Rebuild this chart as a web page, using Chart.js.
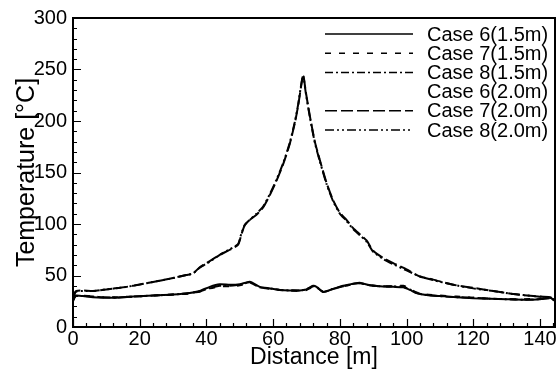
<!DOCTYPE html>
<html lang="en">
<head>
  <meta charset="UTF-8">
  <title>Temperature vs Distance</title>
  <script src="https://cdn.jsdelivr.net/npm/chart.js"></script>
  <style>
    body { margin: 0; background: #fff; }
  </style>
</head>
<body>
  <canvas id="tempChart" width="559" height="373"></canvas>

  <script>
    // distances [m] for the 1.5m and 2.0m runs
    const dist15 = [0, 0.5, 1, 3, 6, 9, 13, 18, 24, 30, 35, 38, 41, 44, 47, 50, 53, 56, 59, 62, 65, 68, 70, 72, 73, 75, 78, 81, 84, 86, 89, 92, 96, 99, 101, 103, 106, 110, 115, 120, 125, 130, 135, 140, 143, 144.5];
    const dist20 = [0, 0.5, 1, 3, 6, 10, 14, 18, 22, 26, 30, 34, 36, 38, 41, 44, 47, 49.5, 50.5, 51.5, 53, 55, 57, 59, 61, 63, 65, 66.5, 67.5, 68.3, 69, 69.8, 71, 72.5, 74, 76, 78, 80, 82, 84, 86, 88, 90, 93, 96, 100, 104, 108, 114, 120, 126, 132, 138, 143, 144.5];

    // temperatures [oC]
    const case6_15 = [25, 29, 30.5, 30, 29, 28.5, 28.5, 29.5, 30.5, 31.5, 33, 35, 39, 41.5, 41, 41.5, 44, 39, 37.5, 36, 35.5, 35.5, 36.5, 40, 39, 34, 37, 40, 42, 43, 40.5, 39.5, 39, 38.5, 36, 33, 31, 30, 29, 28, 27.5, 27, 26.5, 27, 28.5, 26];
    const case7_15 = [26, 29.5, 31, 30.5, 29.5, 29, 29, 29.5, 30.5, 31.5, 32.5, 34.5, 37.5, 39.5, 39.5, 40.5, 43, 38.5, 37, 36, 35.5, 35, 36, 39, 38.5, 34.5, 37, 39.5, 41.5, 42.5, 40.5, 39.5, 39.5, 40, 37, 33.5, 31.5, 30.5, 29.5, 28.5, 27.5, 27, 27, 27.5, 28, 25.5];
    const case8_15 = [25.5, 29, 30, 30, 29.5, 29, 28.5, 29.5, 30.5, 31.5, 33, 34.5, 38, 40, 40, 41, 43.5, 38.5, 37.5, 36, 35.5, 35.5, 36.5, 39.5, 39, 34, 37, 39.5, 42, 42.5, 40.5, 39.5, 39.5, 39, 36.5, 33, 31, 30, 29, 28.5, 27.5, 27, 26.5, 27, 28, 26];
    const case6_20 = []; // no visible line in the figure
    const case7_20 = [28, 33, 35, 35.5, 35, 36.5, 38, 40, 42.5, 45, 47.5, 50.5, 52, 58, 64, 70, 75, 80, 90, 99, 104, 109, 116, 128, 142, 158, 178, 198, 215, 232, 245, 228, 205, 180, 162, 140, 123, 111, 104, 96, 90, 84, 74, 67, 62, 56, 49, 46, 41, 38, 35, 32, 30, 29, 26];
    const case8_20 = [28, 32.5, 34.5, 35, 35, 36.5, 38, 40, 42.5, 45, 47.5, 50.5, 52, 57.5, 63.5, 70, 75.5, 80.5, 91, 99, 104, 110, 117, 129, 143, 159, 179, 199, 216, 233, 244, 227, 204, 179, 161, 139, 122, 110, 103, 95, 89, 83, 73, 66, 61, 55, 49, 45.5, 41, 37.5, 35, 32, 30, 28.5, 26];

    const FONT = "'Liberation Sans', Arial, sans-serif";

    function pts(xs, ys) {
      return ys.map((v, i) => ({ x: xs[i], y: v }));
    }

    function line(label, xs, ys, dash, width) {
      return {
        label: label,
        data: pts(xs, ys),
        borderColor: '#000',
        borderWidth: width === undefined ? 2 : width,
        borderDash: dash,
        pointRadius: 0,
        tension: 0.2,
        fill: false,
      };
    }

    // inward ticks + box frame
    const frameTicks = {
      id: 'frameTicks',
      afterDraw(chart) {
        const { ctx, chartArea: a, scales: { x, y } } = chart;
        ctx.save();
        ctx.strokeStyle = '#000';
        ctx.lineWidth = 1.2;
        ctx.beginPath();
        for (let v = 0; v <= x.max; v += 4) {
          const px = Math.round(x.getPixelForValue(v)) + 0.5;
          const len = v % 20 === 0 ? 8 : 4;
          ctx.moveTo(px, a.bottom);
          ctx.lineTo(px, a.bottom - len);
        }
        for (let v = 0; v <= y.max; v += 10) {
          const py = Math.round(y.getPixelForValue(v)) + 0.5;
          const len = v % 50 === 0 ? 8 : 4;
          ctx.moveTo(a.left, py);
          ctx.lineTo(a.left + len, py);
        }
        ctx.stroke();
        ctx.lineWidth = 2;
        ctx.strokeRect(a.left, a.top, a.right - a.left, a.bottom - a.top);
        ctx.restore();
      }
    };

    // legend drawn inside the plot, top right
    const caseLegend = {
      id: 'caseLegend',
      afterDraw(chart) {
        const ctx = chart.ctx;
        ctx.save();
        ctx.font = '20px ' + FONT;
        ctx.fillStyle = '#000';
        ctx.textBaseline = 'middle';
        chart.data.datasets.forEach((ds, i) => {
          const yy = 34 + i * 19.2;
          if (ds.borderWidth > 0) {
            ctx.strokeStyle = '#000';
            ctx.lineWidth = 1.5;
            ctx.setLineDash(ds.borderDash || []);
            ctx.beginPath();
            ctx.moveTo(325, yy);
            ctx.lineTo(413, yy);
            ctx.stroke();
          }
          ctx.setLineDash([]);
          ctx.fillText(ds.label, 427, yy + 1);
        });
        ctx.restore();
      }
    };

    const ctx = document.getElementById('tempChart').getContext('2d');
    new Chart(ctx, {
      type: 'line',
      data: {
        datasets: [
          line('Case 6(1.5m)', dist15, case6_15, []),
          line('Case 7(1.5m)', dist15, case7_15, [6, 8]),
          line('Case 8(1.5m)', dist15, case8_15, [8, 3, 2, 3]),
          line('Case 6(2.0m)', dist20, case6_20, [], 0),
          line('Case 7(2.0m)', dist20, case7_20, [12, 4]),
          line('Case 8(2.0m)', dist20, case8_20, [9, 3, 2, 3, 2, 3]),
        ],
      },
      options: {
        responsive: false,
        animation: false,
        layout: { padding: { top: 15, right: 4 } },
        plugins: {
          legend: { display: false },
          tooltip: { enabled: false },
        },
        scales: {
          x: {
            type: 'linear',
            min: 0,
            max: 144.5,
            afterFit: s => { s.height = 46; },
            ticks: {
              stepSize: 20,
              includeBounds: false,
              color: '#000',
              padding: 0,
              font: { family: FONT, size: 20 },
            },
            grid: { drawOnChartArea: false, drawTicks: false },
            border: { display: false },
            title: {
              display: true,
              text: 'Distance [m]',
              color: '#000',
              padding: { top: 0, bottom: 2 },
              font: { family: FONT, size: 23 },
            },
          },
          y: {
            min: 0,
            max: 300,
            afterFit: s => { s.width = 73; },
            ticks: {
              stepSize: 50,
              color: '#000',
              padding: 6,
              font: { family: FONT, size: 20 },
            },
            grid: { drawOnChartArea: false, drawTicks: false },
            border: { display: false },
            title: {
              display: true,
              text: 'Temperature [°C]',
              color: '#000',
              padding: { top: 12, bottom: 0 },
              font: { family: FONT, size: 25 },
            },
          },
        },
      },
      plugins: [frameTicks, caseLegend],
    });
  </script>
</body>
</html>
